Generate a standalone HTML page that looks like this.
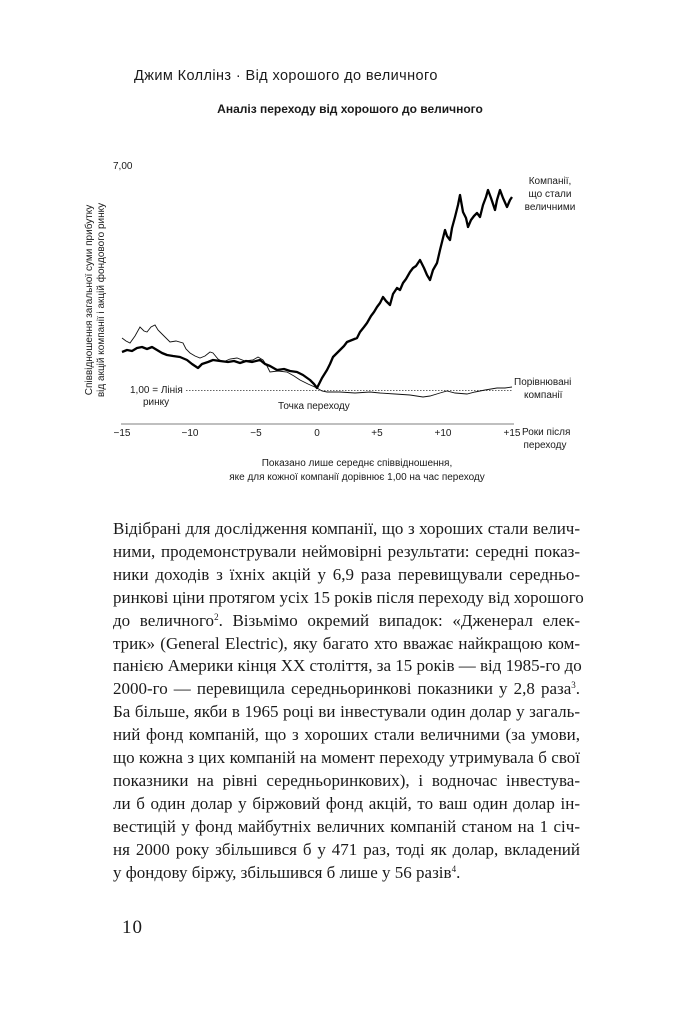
<!DOCTYPE html>
<html><head><meta charset="utf-8"><style>
body{margin:0;background:#fff;width:682px;height:1024px;position:relative;overflow:hidden;font-family:"Liberation Sans",sans-serif;color:#1a1a1a}
.abs{position:absolute}
.body{position:absolute;left:113px;top:518px;width:467px;font-family:"Liberation Serif",serif;font-size:17px;line-height:22.9px}
.body div{text-align:justify;text-align-last:justify;white-space:nowrap;overflow:visible}
.body div.l{text-align-last:left}
sup{font-size:9px;vertical-align:6px;line-height:0}
</style></head><body>
<div class="abs" style="left:134px;top:68px;font-size:14.5px;letter-spacing:0.4px">Джим Коллінз · Від хорошого до величного</div>
<div class="abs" style="left:0;width:700px;top:102px;text-align:center;font-size:12px;font-weight:bold">Аналіз переходу від хорошого до величного</div>
<svg class="abs" style="left:0;top:0" width="682" height="500" font-family="Liberation Sans, sans-serif" font-size="10" fill="#1a1a1a">
<text x="113" y="169">7,00</text>
<g transform="translate(92,300) rotate(-90)" text-anchor="middle" font-size="10"><text x="0" y="0">Співвідношення загальної суми прибутку</text><text x="0" y="12">від акцій компанії і акцій фондового ринку</text></g>
<line x1="121" y1="424" x2="514" y2="424" stroke="#999" stroke-width="1.2"/>
<g text-anchor="middle"><text x="122" y="436">−15</text><text x="190" y="436">−10</text><text x="256" y="436">−5</text><text x="317" y="436">0</text><text x="377" y="436">+5</text><text x="443" y="436">+10</text><text x="512" y="436">+15</text></g>
<text x="522" y="435">Роки після</text><text x="545" y="448" text-anchor="middle">переходу</text>
<line x1="186" y1="390.5" x2="512" y2="390.5" stroke="#333" stroke-width="0.7" stroke-dasharray="1.5,1.5"/>
<text x="130" y="393">1,00 = Лінія</text><text x="143" y="405">ринку</text>
<text x="278" y="409">Точка переходу</text>
<text x="514" y="385">Порівнювані</text><text x="524" y="398">компанії</text>
<g text-anchor="middle"><text x="550" y="184">Компанії,</text><text x="550" y="197">що стали</text><text x="550" y="210">величними</text></g>
<polyline fill="none" stroke="#111" stroke-width="0.9" points="122,338 126,341 130,343 135,336 140,327 144,331 147,332 151,327 155,325 158,330 160,332 165,337 170,342 176,341 183,343 186,349 190,353 195,356 200,358 205,356 210,352 213,353 218,359 223,362 230,359 237,358 245,361 253,360 258,357 263,360 267,366 270,372 278,371 287,372 294,376 300,380 308,384 317,388 322,391 327,392 340,392 355,393 370,392 380,393 395,394 410,395 423,397 430,396 440,393 447,391 455,393 467,394 475,392 485,390 497,388 505,388 512,387"/>
<polyline fill="none" stroke="#000" stroke-width="2.3" stroke-linejoin="round" points="122,352 127,350 132,351 137,348 142,347 147,349 152,347 157,350 162,353 167,355 173,356 180,357 187,360 192,364 198,368 202,364 208,362 213,360 220,361 228,362 234,361 240,363 246,361 252,362 260,360 265,364 270,366 277,370 284,369 290,371 297,372 303,375 310,380 314,384 317,388 322,378 327,370 330,364 333,357 337,353 340,350 344,346 347,342 352,340 357,338 360,332 364,327 367,323 371,316 374,312 377,307 380,303 383,297 386,301 390,305 393,294 397,288 400,290 403,283 406,279 410,272 413,268 416,266 420,260 424,268 427,275 430,280 433,270 437,263 440,250 443,238 445,230 447,236 450,240 452,228 455,217 458,205 460,195 463,212 466,218 468,227 471,220 474,216 477,213 480,217 483,205 486,197 488,190 491,198 495,210 497,200 500,190 503,198 507,207 510,200 512,197"/>
<g text-anchor="middle" font-size="10"><text x="357" y="466">Показано лише середнє співвідношення,</text><text x="357" y="480">яке для кожної компанії дорівнює 1,00 на час переходу</text></g>
</svg>
<div class="body">
<div>Відібрані для дослідження компанії, що з хороших стали велич-</div>
<div>ними, продемонстрували неймовірні результати: середні показ-</div>
<div>ники доходів з їхніх акцій у 6,9 раза перевищували середньо-</div>
<div>ринкові ціни протягом усіх 15 років після переходу від хорошого</div>
<div>до величного<sup>2</sup>. Візьмімо окремий випадок: «Дженерал елек-</div>
<div>трик» (General Electric), яку багато хто вважає найкращою ком-</div>
<div>панією Америки кінця XX століття, за 15 років — від 1985-го до</div>
<div>2000-го — перевищила середньоринкові показники у 2,8 раза<sup>3</sup>.</div>
<div>Ба більше, якби в 1965 році ви інвестували один долар у загаль-</div>
<div>ний фонд компаній, що з хороших стали величними (за умови,</div>
<div>що кожна з цих компаній на момент переходу утримувала б свої</div>
<div>показники на рівні середньоринкових), і водночас інвестува-</div>
<div>ли б один долар у біржовий фонд акцій, то ваш один долар ін-</div>
<div>вестицій у фонд майбутніх величних компаній станом на 1 січ-</div>
<div>ня 2000 року збільшився б у 471 раз, тоді як долар, вкладений</div>
<div class="l">у фондову біржу, збільшився б лише у 56 разів<sup>4</sup>.</div>
</div>
<div class="abs" style="left:122px;top:917px;font-family:'Liberation Serif',serif;font-size:19px;letter-spacing:1px">10</div>
</body></html>
